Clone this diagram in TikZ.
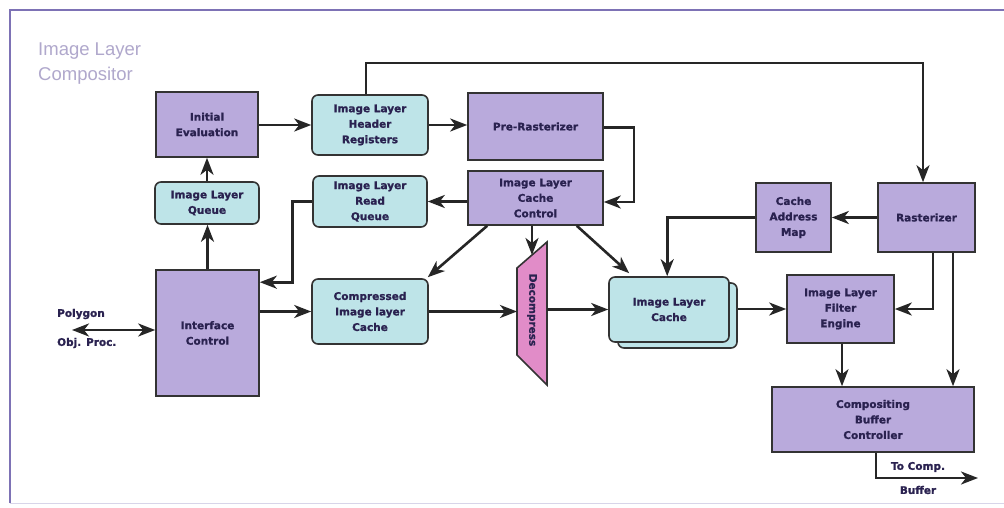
\documentclass[tikz,border=0pt]{standalone}
\usepackage{fontspec}
\usetikzlibrary{arrows.meta,calc}
\newfontfamily\dvfont{DejaVu Sans}[BoldFeatures={FakeBold=1.2}]
\newfontfamily\libfont{Liberation Sans}
\definecolor{purp}{HTML}{B9AADC}
\definecolor{cyanbox}{HTML}{BEE4E8}
\definecolor{pinkbox}{HTML}{E18CC8}
\definecolor{edge}{HTML}{333333}
\definecolor{txt}{HTML}{2A2250}
\definecolor{framec}{HTML}{7D72B5}
\definecolor{titlec}{HTML}{B0A8CC}
\begin{document}
\begin{tikzpicture}[x=1pt,y=-1pt,
  box/.style={draw=edge,line width=1.6pt,text=txt,align=center,inner sep=0pt,
    font=\dvfont\bfseries\fontsize{10.5}{15.5}\selectfont},
  pbox/.style={box,fill=purp},
  cbox/.style={box,fill=cyanbox,rounded corners=6pt},
  lbl/.style={text=txt,inner sep=0pt,font=\dvfont\bfseries\fontsize{10.5}{12}\selectfont},
  tip/.tip={Stealth[length=17pt,width=13pt,inset=5pt]},
  arr/.style={line width=2.6pt,draw=black!85,-tip},
  dbl/.style={line width=2.6pt,draw=black!85,tip-tip},
  plain/.style={line width=2.6pt,draw=black!85}]
\useasboundingbox (0,0) rectangle (1004,508);
\fill[white] (0,0) rectangle (1004,508);
% frame
\draw[framec,line width=1.3pt] (10,503) -- (10,10) -- (1004,10);
\draw[framec!30,line width=0.8pt] (10,503) -- (1004,503);
% title
\node[anchor=base west,inner sep=0pt,text=titlec,align=left,
  font=\libfont\fontsize{18.5}{25}\selectfont] (title) at (38,56) {Image Layer};
\node[anchor=base west,inner sep=0pt,text=titlec,
  font=\libfont\fontsize{18.5}{25}\selectfont] (title2) at (38,81) {Compositor};
% nodes
\node[pbox,minimum width=102pt,minimum height=65pt] (init) at (207,124.5) {Initial\\Evaluation};
\node[cbox,minimum width=116pt,minimum height=60pt] (hdr) at (370,125) {Image Layer\\Header\\Registers};
\node[pbox,minimum width=135pt,minimum height=67pt] (pre) at (535.5,126.5) {Pre-Rasterizer};
\node[cbox,minimum width=104pt,minimum height=42pt] (queue) at (207,203) {Image Layer\\Queue};
\node[cbox,minimum width=114pt,minimum height=51pt] (readq) at (370,201.5) {Image Layer\\Read\\Queue};
\node[pbox,minimum width=135pt,minimum height=54pt] (ctrl) at (535.5,198) {Image Layer\\Cache\\Control};
\node[pbox,minimum width=75pt,minimum height=69pt] (cam) at (793.5,217.5) {Cache\\Address\\Map};
\node[pbox,minimum width=97pt,minimum height=69pt] (rast) at (926.5,217.5) {Rasterizer};
\node[pbox,minimum width=103pt,minimum height=126pt] (ifc) at (207.5,333) {Interface\\Control};
\node[cbox,minimum width=116pt,minimum height=65pt] (comp) at (370,311.5) {Compressed\\Image layer\\Cache};
% decompress
\draw[draw=edge,line width=1.6pt,fill=pinkbox] (517,268) -- (547,242) -- (547,385) -- (517,355) -- cycle;
\node[lbl,rotate=-90] (dec) at (532,310) {Decompress};
\coordinate (decT) at (532,255);
\coordinate (decL) at (517,311.5);
\coordinate (decR) at (547,309.5);
% image layer cache (stacked)
\node[cbox,minimum width=119pt,minimum height=65pt] (cacheb) at (677.5,315.5) {};
\node[cbox,minimum width=120pt,minimum height=65pt] (cache) at (669,309.5) {Image Layer\\Cache};
\node[pbox,minimum width=107pt,minimum height=68pt] (filt) at (840.5,309) {Image Layer\\Filter\\Engine};
\node[pbox,minimum width=202pt,minimum height=65pt] (cbc) at (873,419.5) {Compositing\\Buffer\\Controller};
% labels
\node[lbl,anchor=west] (poly1) at (57,314) {Polygon};
\node[lbl,anchor=west] (poly2) at (57,343) {Obj. Proc.};
\node[lbl] (toc1) at (918,467) {To Comp.};
\node[lbl] (toc2) at (918,490) {Buffer};
\coordinate (poly) at (72,330);
\coordinate (topR) at (923,63);
\coordinate (out) at (978,478);
% connectors
\draw[arr] (init.east |- hdr.west) -- (hdr.west);
\draw[arr] ([xshift=-4pt]hdr.north) |- (topR) -- (topR |- rast.north);
\draw[arr] (hdr.east) -- (hdr.east -| pre.west);
\draw[arr] ([yshift=-1pt]pre.east) -- ++(30,0) |- ([yshift=-4pt]ctrl.east);
\draw[arr] (readq.east -| ctrl.west) -- (readq.east);
\draw[arr] (readq.west) -- ++(-20,0) |- ($(ifc.north east)+(0,13)$);
\draw[arr] (ifc.north) -- (ifc.north |- queue.south);
\draw[arr] (queue.north) -- (queue.north |- init.south);
\draw[dbl] (poly) -- (poly -| ifc.west);
\draw[arr] (comp.west -| ifc.east) -- (comp.west);
\draw[arr] ($(ctrl.south west)+(20,0)$) -- ($(comp.north east)+(-1,-1)$);
\draw[arr] (decT |- ctrl.south) -- (decT);
\draw[arr] ($(ctrl.south east)+(-27,0)$) -- ($(cache.north west)+(21,-3)$);
\draw[arr] (comp.east) -- (decL);
\draw[arr] (decR) -- (decR -| cache.west);
\draw[arr] (cam.west) -| ($(cache.north west)+(59,0)$);
\draw[arr] (rast.west) -- (cam.east);
\draw[arr] (filt.west -| cacheb.east) -- (filt.west);
\draw[arr] ([xshift=6.5pt]rast.south) |- (filt.east);
\draw[arr] ([xshift=26.5pt]rast.south) -- ([xshift=26.5pt]rast.south |- cbc.north);
\draw[arr] ([xshift=1.5pt]filt.south) -- ([xshift=1.5pt]filt.south |- cbc.north);
\draw[arr] ([xshift=3pt]cbc.south) |- (out);
\end{tikzpicture}
\end{document}
